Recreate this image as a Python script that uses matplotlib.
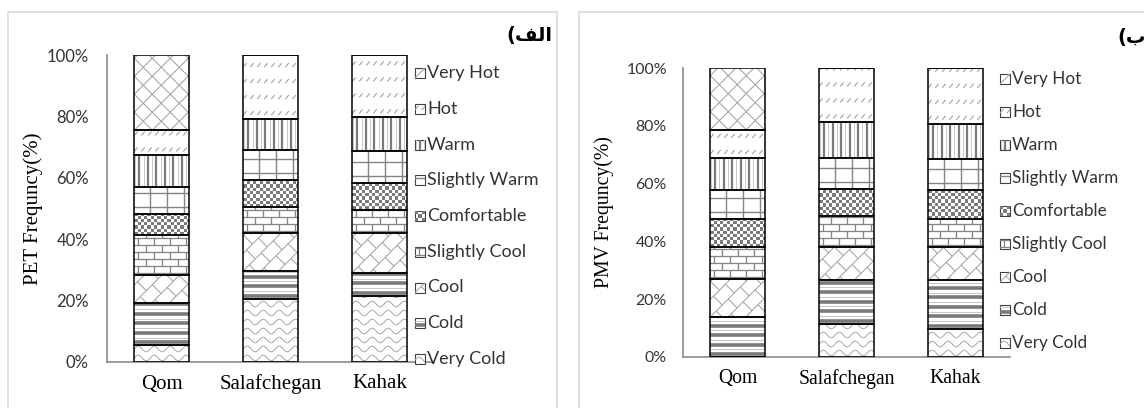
import numpy as np
import matplotlib.pyplot as plt
from matplotlib.collections import LineCollection, PolyCollection
from matplotlib.patches import Rectangle

# station names and thermal classes (bottom -> top of each stack)
sites = ['Qom', 'Salafchegan', 'Kahak']
classes = ['Very Cold', 'Cold', 'Cool', 'Slightly Cool', 'Comfortable',
           'Slightly Warm', 'Warm', 'Hot', 'Very Hot']
kinds = ['wave', 'stripe', 'dbrick', 'hbrick', 'checker',
         'grid', 'vline', 'dash', 'lattice']

# PET frequency (%) per class
pet_qom = [5.4, 13.9, 8.9, 13.0, 6.8, 9.1, 10.1, 8.2, 24.5]
pet_salaf = [20.7, 9.0, 12.5, 8.2, 8.9, 9.8, 10.1, 20.9, 0.0]
pet_kahak = [21.5, 7.6, 13.0, 7.5, 8.8, 10.2, 11.0, 20.3, 0.0]

# PMV frequency (%) per class
pmv_qom = [0.0, 13.8, 13.1, 11.1, 9.8, 10.0, 11.0, 9.8, 21.3]
pmv_salaf = [11.5, 15.2, 11.3, 10.6, 9.5, 10.7, 12.3, 18.8, 0.0]
pmv_kahak = [9.7, 16.8, 11.5, 9.7, 10.1, 10.6, 12.2, 19.3, 0.0]

yticks = [0, 0.2, 0.4, 0.6, 0.8, 1.0]
ytick_labels = ['0%', '20%', '40%', '60%', '80%', '100%']

W, H = 1144, 408
PT = 0.72  # points per pixel at dpi 100
GRAY = '#858585'
LGRAY = '#a0a0a0'


def pattern(kind, w, h):
    """Excel-like fill pattern inside a w x h pixel box.
    Returns (lines, line_width_px, color, extra_lines, polys)."""
    lines, extra, polys = [], [], []
    lw, col = 1.0, LGRAY
    if kind == 'wave':
        xs = np.arange(-2, w + 3, 0.5)
        for j in range(-1, int(h / 9) + 2):
            lines.append(np.c_[xs, j * 9 + 4 + 2.8 * np.sin(2 * np.pi * xs / 16)])
        lw, col = 0.9, LGRAY
    elif kind == 'stripe':
        for j in range(-1, int(h / 9.5) + 2):
            y = 3 + j * 9.5
            lines.append(np.array([[-2, y], [w + 2, y]]))
            extra.append(np.array([[-2, y + 4.75], [w + 2, y + 4.75]]))
        lw, col = 3.6, '#7a7a7a'
    elif kind == 'dbrick':
        s, b = 12.5, 17.0
        d = np.array([1, 1]) / np.sqrt(2)
        n = np.array([-1, 1]) / np.sqrt(2)
        L = w + h + 40
        for k in range(int(-w / s) - 3, int(h / s) + 4):
            p0 = k * s * n
            lines.append(np.array([p0 - L * d, p0 + L * d]))
            for m in range(int(-L / b), int(L / b) + 1):
                t = m * b + (k % 2) * b / 2
                a = p0 + t * d
                lines.append(np.array([a, a + s * n]))
        lw, col = 1.0, LGRAY
    elif kind == 'hbrick':
        for j in range(-1, int(h / 7) + 2):
            y = j * 7 + 2
            lines.append(np.array([[-2, y], [w + 2, y]]))
            for m in range(-1, int(w / 16) + 2):
                x = m * 16 + (j % 2) * 8 + 4
                lines.append(np.array([[x, y], [x, y + 7]]))
        lw, col = 1.3, GRAY
    elif kind == 'checker':
        c = 3.3
        for i in range(int(w / c) + 2):
            for j in range(int(h / c) + 2):
                if (i + j) % 2 == 0:
                    x, y = i * c, j * c
                    polys.append([(x, y), (x + c, y), (x + c, y + c), (x, y + c)])
        lw, col = 0, '#7a7a7a'
    elif kind == 'grid':
        for m in range(-1, int(w / 17) + 2):
            x = 16 + m * 17
            lines.append(np.array([[x, -2], [x, h + 2]]))
        for j in range(-1, int(h / 14) + 2):
            y = 7 + j * 14
            lines.append(np.array([[-2, y], [w + 2, y]]))
        lw, col = 1.4, GRAY
    elif kind == 'vline':
        for m in range(-1, int(w / 8.5) + 2):
            x = 5 + m * 8.5
            lines.append(np.array([[x, -2], [x, h + 2]]))
            extra.append(np.array([[x + 4.25, -2], [x + 4.25, h + 2]]))
        lw, col = 2.2, '#7a7a7a'
    elif kind == 'dash':
        for j in range(-1, int(h / 16) + 2):
            y = 6 + j * 16
            for m in range(-1, int(w / 7) + 2):
                x = m * 7
                lines.append(np.array([[x, y - 2], [x + 3.5, y + 2]]))
        lw, col = 1.1, LGRAY
    elif kind == 'lattice':
        sp = 18
        L = w + h + 40
        for k in range(-int(L / sp) - 2, int(L / sp) + 3):
            c = k * sp
            lines.append(np.array([[-L, c - L], [L, c + L]]))
            lines.append(np.array([[-L, c + L], [L, c - L]]))
        lw, col = 1.0, LGRAY
    return lines, lw, col, extra, polys


def fill(ax, patch, kind, sx, sy, z):
    x0, y0 = patch.get_x(), patch.get_y()
    w, h = patch.get_width() * sx, patch.get_height() * sy
    if h <= 0:
        return
    lines, lw, col, extra, polys = pattern(kind, w, h)

    def to_data(p):
        p = np.asarray(p, float)
        return np.c_[x0 + p[:, 0] / sx, y0 + p[:, 1] / sy]

    if lines:
        lc = LineCollection([to_data(l) for l in lines], colors=col,
                            linewidths=lw * PT, zorder=z)
        ax.add_collection(lc)
        lc.set_clip_path(patch)
    if extra:
        lc = LineCollection([to_data(l) for l in extra], colors='#c8c8c8',
                            linewidths=1.0 * PT, zorder=z)
        ax.add_collection(lc)
        lc.set_clip_path(patch)
    if polys:
        pc = PolyCollection([to_data(p) for p in polys], facecolors=col,
                            edgecolors='none', zorder=z)
        ax.add_collection(pc)
        pc.set_clip_path(patch)


fig = plt.figure(figsize=(W / 100, H / 100), dpi=100)

# overlay in pixel units for panel borders and legends
ov = fig.add_axes([0, 0, 1, 1], zorder=5)
ov.set_xlim(0, W)
ov.set_ylim(0, H)
ov.axis('off')
ov.patch.set_alpha(0)

panels = [
    dict(data=[pet_qom, pet_salaf, pet_kahak], ylabel='PET Frequncy(%)',
         box=(107, 55, 362), frame=(8, 12, 557), k=1.0,
         ylab_x=33, tick_pad=18, leg_x=415, leg_y0=73, leg_dy=35.75,
         title='(\ufed2\ufedf\ufe8d', title_x=506, title_y=35),
    dict(data=[pmv_qom, pmv_salaf, pmv_kahak], ylabel='PMV Frequncy(%)',
         box=(683, 68, 357), frame=(579, 12, 1160), k=0.95,
         ylab_x=604, tick_pad=16, leg_x=1000, leg_y0=79, leg_dy=33,
         title='(\ufe8f', title_x=1117, title_y=37),
]

for p in panels:
    left, top, bottom = p['box']
    aw, ah = 327, bottom - top
    k = p['k']
    ax = fig.add_axes([left / W, (H - bottom) / H, aw / W, ah / H])
    ax.set_xlim(-0.5, 2.5)
    ax.set_ylim(0, 1)
    sx, sy = aw / 3.0, ah / 1.0
    x = np.arange(len(sites))
    vals = np.array(p['data'], float)
    vals = vals / vals.sum(axis=1, keepdims=True)
    bottom_v = np.zeros(len(sites))
    for i, kind in enumerate(kinds):
        bars = ax.bar(x, vals[:, i], 0.5, bottom=bottom_v, color='white',
                      edgecolor='none', zorder=2)
        for patch in bars:
            fill(ax, patch, kind, sx, sy, 2.5)
        ax.bar(x, vals[:, i], 0.5, bottom=bottom_v, fill=False,
               edgecolor='black', linewidth=1.1, zorder=3)
        bottom_v += vals[:, i]

    for s in ['top', 'right']:
        ax.spines[s].set_visible(False)
    for s in ['left', 'bottom']:
        ax.spines[s].set_color('#8c8c8c')
        ax.spines[s].set_linewidth(1.2)
    ax.set_yticks(yticks, ytick_labels, fontfamily='Lato', fontsize=12 * k,
                  color='#333333')
    ax.set_xticks(x, sites, fontfamily='Liberation Serif', fontsize=15 * k)
    ax.tick_params(axis='y', length=0, pad=p['tick_pad'] * PT)
    ax.tick_params(axis='x', length=0, pad=9 * k)
    ax.patch.set_alpha(0)

    fig.text(p['ylab_x'] / W, 1 - ((top + bottom) / 2) / H, p['ylabel'],
             rotation=90, ha='center', va='center',
             fontfamily='Liberation Serif', fontsize=15 * k)

    # panel frame
    fx0, fy0, fx1 = p['frame']
    ov.add_patch(Rectangle((fx0, -10), fx1 - fx0, H - fy0 + 10, fill=False,
                           edgecolor='#d9d9d9', linewidth=1.2))

    # legend: Very Hot on top
    for j, i in enumerate(range(len(classes) - 1, -1, -1)):
        yc = H - (p['leg_y0'] + j * p['leg_dy'])
        sq = Rectangle((p['leg_x'], yc - 5), 10, 10, facecolor='white',
                       edgecolor='#404040', linewidth=0.8, zorder=6)
        ov.add_patch(sq)
        fill(ov, sq, kinds[i], 1.0, 1.0, 6.5)
        ov.text(p['leg_x'] + 12, yc, classes[i], ha='left', va='center',
                fontfamily='Lato', fontsize=13 * k, color='#333333')

    fig.text(p['title_x'] / W, 1 - p['title_y'] / H, p['title'],
             ha='left', va='center', fontfamily='DejaVu Sans',
             fontweight='bold', fontsize=14)

fig.savefig('out.png', dpi=100)
